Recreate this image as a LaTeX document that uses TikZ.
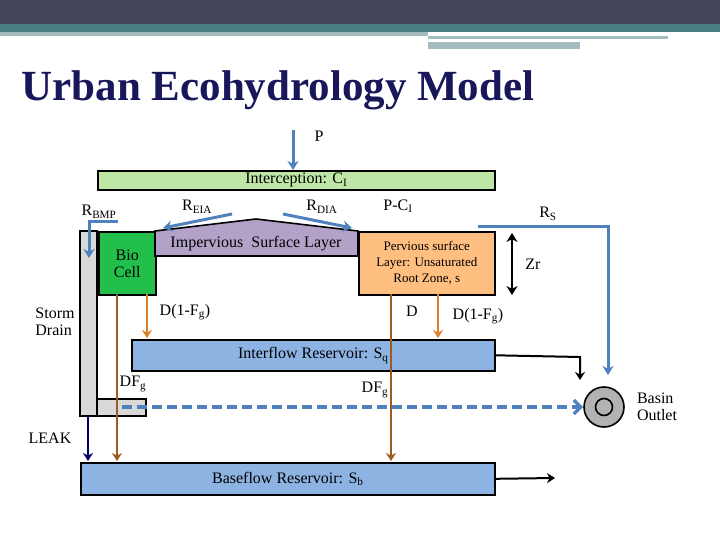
\documentclass[tikz,border=0pt]{standalone}
\usepackage{fontspec}
\setmainfont{Liberation Serif}
\usetikzlibrary{arrows.meta}
\definecolor{dkbar}{HTML}{43435A}
\definecolor{teal}{HTML}{467E82}
\definecolor{ltbar}{HTML}{A3BDBF}
\definecolor{flow}{HTML}{4F81BD}
\definecolor{resv}{HTML}{8DB3E2}
\definecolor{brownd}{HTML}{9C5B20}
\definecolor{orng}{HTML}{E2802A}
\definecolor{titlec}{HTML}{17175A}
\definecolor{imper}{HTML}{B3A2C7}
\definecolor{biog}{HTML}{22C04A}
\begin{document}
\begin{tikzpicture}[x=1pt,y=-1pt,
    box/.style={draw,line width=1.6pt,inner sep=0pt},
    lbl/.style={font=\fontsize{16}{17}\selectfont},
    blue/.style={draw=flow,line width=3pt,-{Stealth[length=9pt,width=11pt]}},
    drain/.style={line width=2.6pt,-{Stealth[length=8pt,width=10pt]}},
    blk/.style={line width=2pt,-{Stealth[length=8pt,width=10pt]}}]
  \useasboundingbox (0,0) rectangle (720,540);
  % slide header
  \fill[dkbar] (0,0) rectangle (720,24);
  \fill[teal] (0,24) rectangle (720,32);
  \fill[ltbar] (0,32) rectangle (428,36);
  \fill[ltbar] (428,36) rectangle (668,39);
  \fill[ltbar] (428,42) rectangle (580,49);
  \node[anchor=base west,font=\bfseries\fontsize{43}{45}\selectfont,text=titlec] (title) at (18,101) {Urban Ecohydrology Model};
  % boxes
  \node[box,fill=green!45!olive!35!white,minimum width=397pt,minimum height=19pt,anchor=north west,lbl] (icp) at (97,170) {Interception: C\textsubscript{I}};
  \filldraw[draw=black,fill=gray!30,line width=1.4pt] (80,231) rectangle (97,416);
  \filldraw[draw=black,fill=gray!30,line width=1.4pt] (97,399) rectangle (146,416);
  \node[box,fill=biog,minimum width=57pt,minimum height=63pt,anchor=north west,lbl,align=center] (bio) at (98,231) {Bio\\Cell};
  \filldraw[fill=imper,line width=1.6pt] (155,256) -- (155,231) -- (256,219) -- (358,231) -- (358,256) -- cycle;
  \node[lbl,anchor=north] (imp) at (256,233) {Impervious\ \ Surface Layer};
  \node[box,fill=orange!50!white,minimum width=136pt,minimum height=63pt,anchor=north west,font=\fontsize{13}{16}\selectfont,align=center] (perv) at (358,231) {Pervious surface\\Layer: Unsaturated\\Root Zone, s};
  \node[box,fill=resv,minimum width=363pt,minimum height=31pt,anchor=north west,lbl] (inter) at (131,339) {Interflow Reservoir: S\textsubscript{q}};
  \node[box,fill=resv,minimum width=414pt,minimum height=32pt,anchor=north west,lbl] (base) at (80,462) {Baseflow Reservoir: S\textsubscript{b}};
  \node[circle,draw,line width=1.6pt,fill=gray!60,minimum size=40pt] (out) at (604,407) {};
  \node[circle,draw,line width=1.6pt,minimum size=17pt] (outc) at (out) {};
  % labels
  \node[lbl] (p) at (319,136) {P};
  \node[lbl] (reia) at (197,207) {R\textsubscript{EIA}};
  \node[lbl] (rdia) at (322,207) {R\textsubscript{DIA}};
  \node[lbl] (pci) at (398,206) {P-C\textsubscript{I}};
  \node[lbl] (rbmp) at (99,212) {R\textsubscript{BMP}};
  \node[lbl] (rs) at (548,214) {R\textsubscript{S}};
  \node[lbl] (zr) at (533,264) {Zr};
  \node[lbl,align=left] (storm) at (55,322) {Storm\\Drain};
  \node[lbl] (d1) at (185,312) {D(1-F\textsubscript{g})};
  \node[lbl] (d) at (412,311) {D};
  \node[lbl] (d2) at (478,316) {D(1-F\textsubscript{g})};
  \node[lbl] (dfa) at (133,384) {DF\textsubscript{g}};
  \node[lbl] (dfb) at (375,390) {DF\textsubscript{g}};
  \node[lbl] (leak) at (50,438) {LEAK};
  \node[lbl,align=left] (basin) at (657,407) {Basin\\Outlet};
  % fluxes
  \draw[blue] (293,130) -- (icp.north-|293,0);
  \draw[blue] (232,214) -- (163,228);
  \draw[blue] (283,214) -- (352,228);
  \draw[draw=flow,line width=3pt] (118,222) -- (89,222);
  \draw[blue] (89,220.5) -- (89,258);
  \draw[draw=flow,line width=3pt] (478,227) -- (608,227);
  \draw[blue] (608,225.5) -- (608,375);
  \draw[line width=2.4pt,{Stealth[length=9pt,width=11pt]}-{Stealth[length=9pt,width=11pt]}] (512,233) -- (512,295);
  \draw[drain,brownd] (117,294) -- (117,461);
  \draw[drain,orng] (147,294) -- (147,338);
  \draw[drain,brownd] (391,294) -- (391,461);
  \draw[drain,orng] (438,294) -- (438,338);
  \draw[drain,draw=blue!40!black] (88,416) -- (88,461);
  \draw[draw=flow,line width=3.4pt,dash pattern=on 10pt off 5pt,-{Straight Barb[length=7pt,width=14pt]}] (122,407) -- (out.west);
  \draw[blk] (inter.east) -- (580,357) -- (580,380);
  \draw[blk] (base.east) -- (555,478);
\end{tikzpicture}
\end{document}
